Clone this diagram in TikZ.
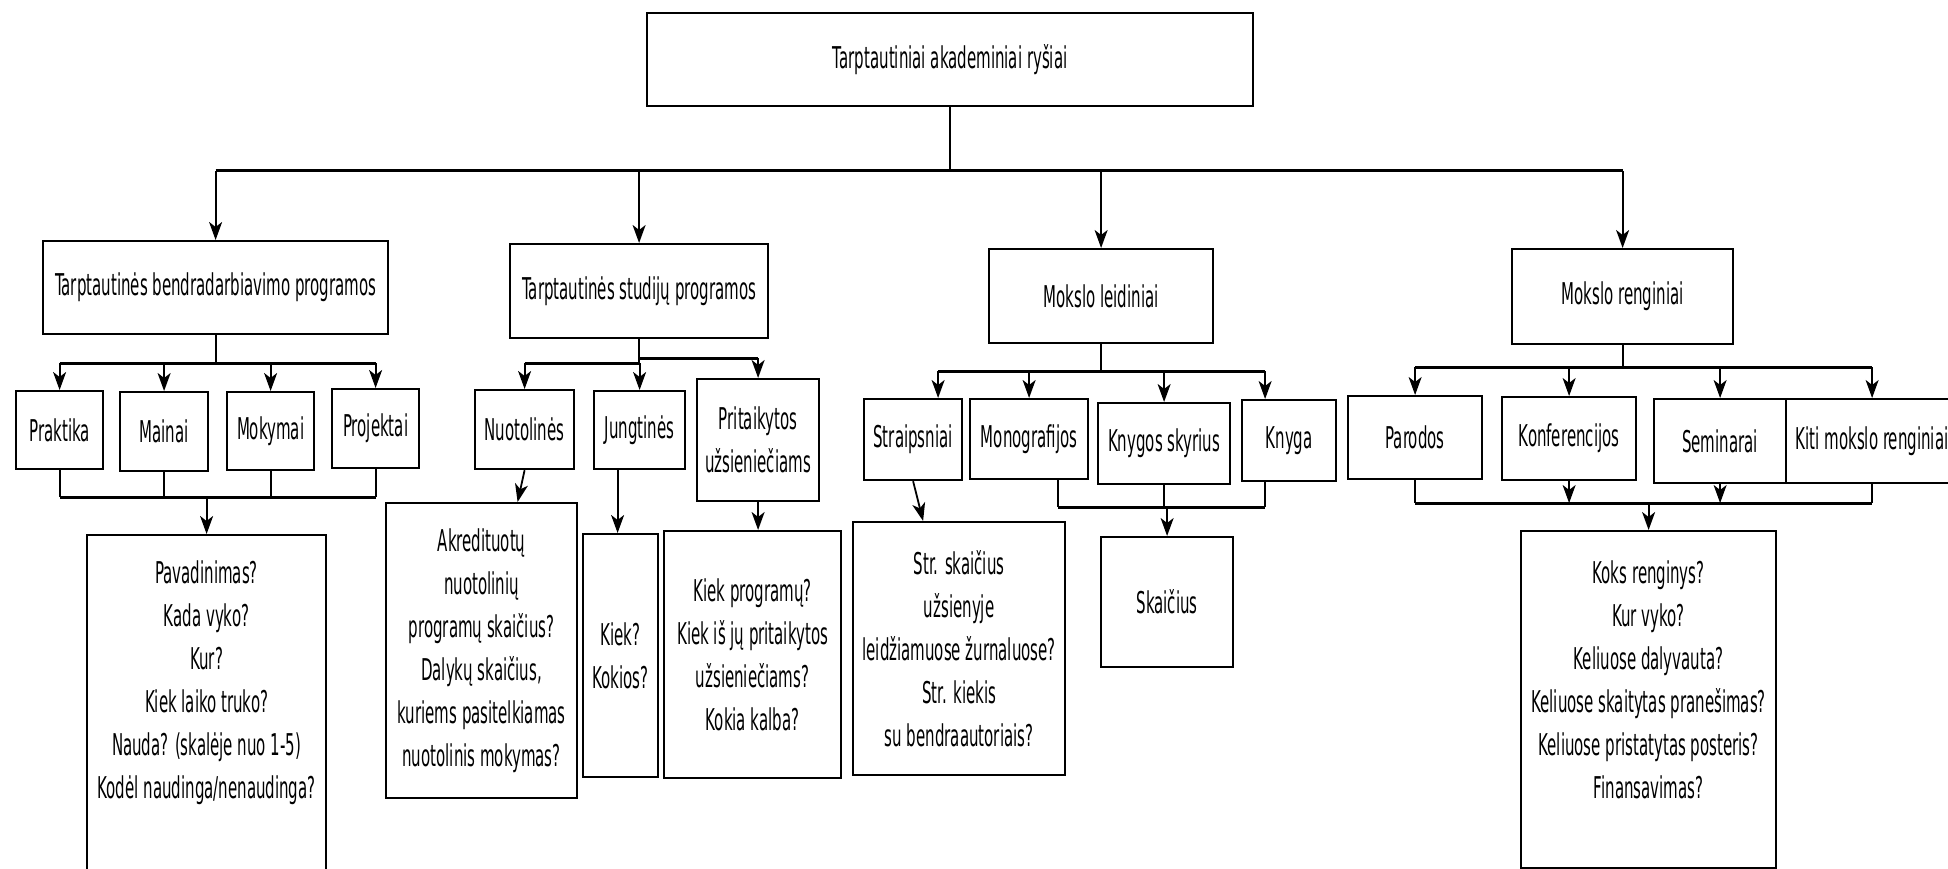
\documentclass[tikz,border=0pt]{standalone}
\usepackage{fontspec}
\setmainfont{DejaVu Sans}[FakeStretch=0.5]
\usetikzlibrary{arrows.meta,calc}

\begin{document}
\begin{tikzpicture}[x=1pt, y=-1pt,
		box/.style={draw, line width=2.2pt, inner sep=2pt, align=center, anchor=north west, font=\fontsize{30pt}{43pt}\selectfont},
		txt/.style={inner sep=0pt, align=center, font=\fontsize{30pt}{43pt}\selectfont},
		bus/.style={line width=3pt},
		drop/.style={line width=1.8pt},
		arr/.style={line width=1.8pt, -{Stealth[length=18pt, width=13pt, inset=5pt]}}]
		%%%%% START %%%%%
		
		\useasboundingbox (0,0) rectangle (1948,869);
		\clip (0,0) rectangle (1948,869);
		
		\node[box, minimum width=606pt, minimum height=93pt] (root) at (646,12) {Tarptautiniai akademiniai ryšiai};
		
		\node[box, minimum width=345pt, minimum height=93pt] (bend) at (42,240) {Tarptautinės bendradarbiavimo programos};
		\node[box, minimum width=258pt, minimum height=94pt] (stud) at (509,243) {Tarptautinės studijų programos};
		\node[box, minimum width=224pt, minimum height=94pt] (leid) at (988,248) {Mokslo leidiniai};
		\node[box, minimum width=221pt, minimum height=95pt] (reng) at (1511,248) {Mokslo renginiai};
		
		\node[box, minimum width=87pt, minimum height=78pt] (prak) at (15,390) {Praktika};
		\node[box, minimum width=88pt, minimum height=79pt] (main) at (119,391) {Mainai};
		\node[box, minimum width=87pt, minimum height=78pt] (moky) at (226,391) {Mokymai};
		\node[box, minimum width=87pt, minimum height=79pt] (proj) at (331,388) {Projektai};
		
		\node[box, minimum width=99pt, minimum height=79pt] (nuot) at (474,389) {Nuotolinės};
		\node[box, minimum width=91pt, minimum height=78pt] (jung) at (593,390) {Jungtinės};
		\node[box, minimum width=122pt, minimum height=122pt] (prit) at (696,378) {Pritaikytos\\užsieniečiams};
		
		\node[box, minimum width=98pt, minimum height=81pt] (strp) at (863,398) {Straipsniai};
		\node[box, minimum width=118pt, minimum height=80pt] (mono) at (969,398) {Monografijos};
		\node[box, minimum width=132pt, minimum height=81pt] (kskr) at (1097,402) {Knygos skyrius};
		\node[box, minimum width=94pt, minimum height=81pt] (knyg) at (1241,399) {Knyga};
		
		\node[box, minimum width=134pt, minimum height=83pt] (paro) at (1347,395) {Parodos};
		\node[box, minimum width=134pt, minimum height=83pt] (konf) at (1501,396) {Konferencijos};
		\node[box, minimum width=132pt, minimum height=84pt] (semi) at (1653,398) {Seminarai};
		\node[box, minimum width=172pt, minimum height=84pt] (kiti) at (1785,398) {Kiti mokslo renginiai};
		
		\node[box, minimum width=239pt, minimum height=400pt] (pavb) at (86,534) {};
		\node[txt] (pavt) at ($(pavb.north)+(0,149)$) {Pavadinimas?\\Kada vyko?\\Kur?\\Kiek laiko truko?\\Nauda? (skalėje nuo 1-5)\\Kodėl naudinga/nenaudinga?};
		\node[box, minimum width=191pt, minimum height=295pt] (akrb) at (385,502) {Akredituotų\\nuotolinių\\programų skaičius?\\Dalykų skaičius,\\kuriems pasitelkiamas\\nuotolinis mokymas?};
		\node[box, minimum width=75pt, minimum height=243pt] (kiek) at (582,533) {Kiek?\\Kokios?};
		\node[box, minimum width=177pt, minimum height=247pt] (kpro) at (663,530) {Kiek programų?\\Kiek iš jų pritaikytos\\užsieniečiams?\\Kokia kalba?};
		\node[box, minimum width=212pt, minimum height=253pt] (strb) at (852,521) {Str. skaičius\\užsienyje\\leidžiamuose žurnaluose?\\Str. kiekis\\su bendraautoriais?};
		\node[box, minimum width=132pt, minimum height=130pt] (skai) at (1100,536) {Skaičius};
		\node[box, minimum width=255pt, minimum height=337pt] (koks) at (1520,530) {};
		\node[txt] (kokst) at ($(koks.north)+(0,150)$) {Koks renginys?\\Kur vyko?\\Keliuose dalyvauta?\\Keliuose skaitytas pranešimas?\\Keliuose pristatytas posteris?\\Finansavimas?};
		
		%%%%% TOP LEVEL %%%%%
		\coordinate (topbus) at (0,171);
		\draw[drop] (root.south) -- (root.south |- topbus);
		\draw[bus] (bend.north |- topbus) -- (reng.north |- topbus);
		\draw[arr] (bend.north |- topbus) -- (bend.north);
		\draw[arr] (stud.north |- topbus) -- (stud.north);
		\draw[arr] (leid.north |- topbus) -- (leid.north);
		\draw[arr] (reng.north |- topbus) -- (reng.north);
		
		%%%%% BENDRADARBIAVIMO %%%%%
		\coordinate (bendbus) at (0,363);
		\coordinate (bendcol) at (0,497);
		\draw[drop] (bend.south) -- (bend.south |- bendbus);
		\draw[bus] (prak.north |- bendbus) -- (proj.north |- bendbus);
		\draw[arr] (prak.north |- bendbus) -- (prak.north);
		\draw[arr] (main.north |- bendbus) -- (main.north);
		\draw[arr] (moky.north |- bendbus) -- (moky.north);
		\draw[arr] (proj.north |- bendbus) -- (proj.north);
		\draw[drop] (prak.south) -- (prak.south |- bendcol);
		\draw[drop] (main.south) -- (main.south |- bendcol);
		\draw[drop] (moky.south) -- (moky.south |- bendcol);
		\draw[drop] (proj.south) -- (proj.south |- bendcol);
		\draw[bus] (prak.south |- bendcol) -- (proj.south |- bendcol);
		\draw[arr] (pavb.north |- bendcol) -- (pavb.north);
		
		%%%%% STUDIJU %%%%%
		\coordinate (studbusl) at (0,363);
		\coordinate (studbusr) at (0,358);
		\draw[drop] (stud.south) -- (stud.south |- studbusl);
		\draw[bus] (nuot.north |- studbusl) -- (stud.south |- studbusl);
		\draw[bus] (stud.south |- studbusr) -- (prit.north |- studbusr);
		\draw[arr] (nuot.north |- studbusl) -- (nuot.north);
		\draw[arr] (jung.north |- studbusl) -- (jung.north);
		\draw[arr] (prit.north |- studbusr) -- (prit.north);
		\draw[arr] (nuot.south) -- ([xshift=36pt]akrb.north);
		\draw[arr] ([xshift=-22pt]jung.south) -- ([xshift=-3pt]kiek.north);
		\draw[arr] (prit.south) -- (prit.south |- kpro.north);
		
		%%%%% LEIDINIAI %%%%%
		\coordinate (leidbus) at (0,371);
		\coordinate (leidcol) at (0,507);
		\draw[drop] (leid.south) -- (leid.south |- leidbus);
		\draw[bus] ([xshift=25pt]strp.north |- leidbus) -- ([xshift=-24pt]knyg.north |- leidbus);
		\draw[arr] ([xshift=25pt]strp.north |- leidbus) -- ([xshift=25pt]strp.north);
		\draw[arr] (mono.north |- leidbus) -- (mono.north);
		\draw[arr] (kskr.north |- leidbus) -- (kskr.north);
		\draw[arr] ([xshift=-24pt]knyg.north |- leidbus) -- ([xshift=-24pt]knyg.north);
		\draw[arr] (strp.south) -- ([xshift=-36pt]strb.north);
		\draw[drop] ([xshift=29pt]mono.south) -- ([xshift=29pt]mono.south |- leidcol);
		\draw[drop] (kskr.south) -- (kskr.south |- leidcol);
		\draw[drop] ([xshift=-24pt]knyg.south) -- ([xshift=-24pt]knyg.south |- leidcol);
		\draw[bus] ([xshift=29pt]mono.south |- leidcol) -- ([xshift=-24pt]knyg.south |- leidcol);
		\draw[arr] (skai.north |- leidcol) -- (skai.north);
		
		%%%%% RENGINIAI %%%%%
		\coordinate (rengbus) at (0,367);
		\coordinate (rengcol) at (0,503);
		\draw[drop] (reng.south) -- (reng.south |- rengbus);
		\draw[bus] (paro.north |- rengbus) -- (kiti.north |- rengbus);
		\draw[arr] (paro.north |- rengbus) -- (paro.north);
		\draw[arr] (konf.north |- rengbus) -- (konf.north);
		\draw[arr] (semi.north |- rengbus) -- (semi.north);
		\draw[arr] (kiti.north |- rengbus) -- (kiti.north);
		\draw[drop] (paro.south) -- (paro.south |- rengcol);
		\draw[arr] (konf.south) -- (konf.south |- rengcol);
		\draw[arr] (semi.south) -- (semi.south |- rengcol);
		\draw[drop] (kiti.south) -- (kiti.south |- rengcol);
		\draw[bus] (paro.south |- rengcol) -- (kiti.south |- rengcol);
		\draw[arr] (koks.north |- rengcol) -- (koks.north);
		
		%%%%% END %%%%%
	\end{tikzpicture}
\end{document}
